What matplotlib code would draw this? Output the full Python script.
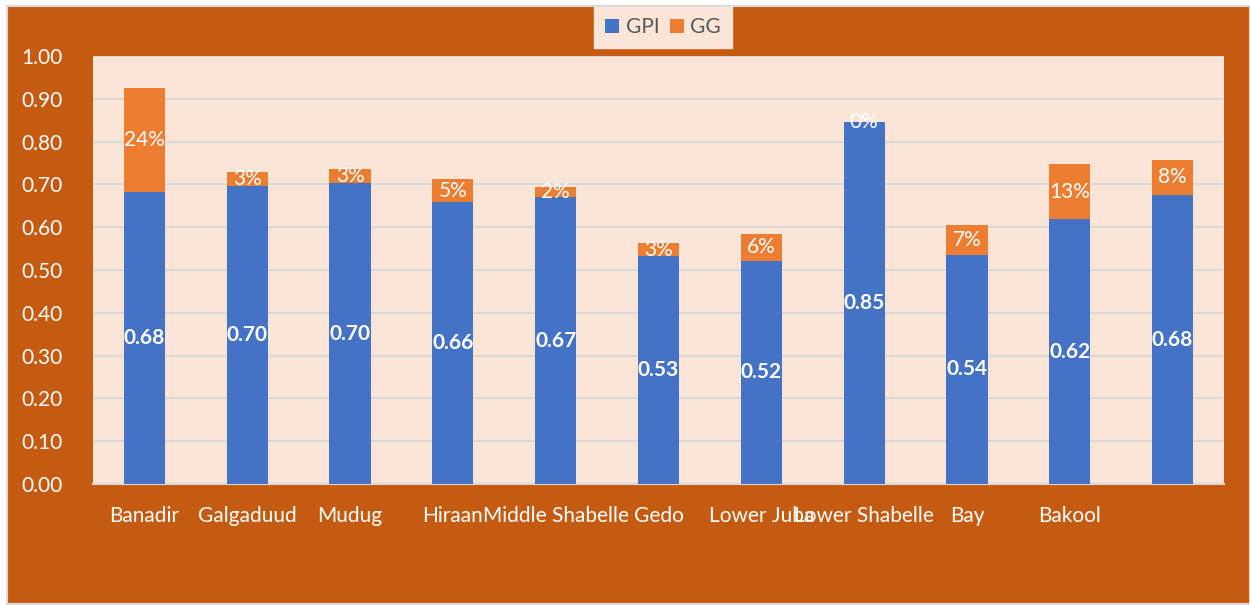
import matplotlib.pyplot as plt
from matplotlib.patches import Rectangle

# data
regions = ['Banadir', 'Galgaduud', 'Mudug', 'Hiraan', 'Middle Shabelle', 'Gedo',
           'Lower Juba', 'Lower Shabelle', 'Bay', 'Bakool', '']
gpi = [0.682, 0.696, 0.703, 0.658, 0.670, 0.532, 0.522, 0.846, 0.536, 0.619, 0.675]
gg = [0.244, 0.034, 0.032, 0.054, 0.023, 0.030, 0.063, 0.0, 0.070, 0.128, 0.083]
yticks = [i / 10 for i in range(11)]

BG = '#C55A11'
PLOT_BG = '#FBE5D6'
BLUE = '#4472C4'
ORANGE = '#ED7D31'

plt.rcParams['font.family'] = ['Lato', 'DejaVu Sans']

fig = plt.figure(figsize=(12.5, 6.05), dpi=100)
fig.patch.set_facecolor('white')
fig.patches.append(Rectangle((7 / 1250, 1 - 604 / 605), 1243 / 1250, 598 / 605,
                             transform=fig.transFigure, facecolor=BG,
                             edgecolor='#D9D9D9', lw=1.5, zorder=-10))

ax = fig.add_axes([93 / 1250, 121 / 605, 1131 / 1250, 428 / 605])
ax.set_facecolor(PLOT_BG)

x = list(range(len(regions)))
b1 = ax.bar(x, gpi, width=0.4, color=BLUE, label='GPI', zorder=3)
b2 = ax.bar(x, gg, width=0.4, bottom=gpi, color=ORANGE, label='GG', zorder=3)

ax.bar_label(b1, labels=['%.2f' % v for v in gpi], label_type='center',
             color='white', fontsize=15, fontweight='bold', zorder=4)
ax.bar_label(b2, labels=['%d%%' % round(v * 100) for v in gg], label_type='center',
             color='white', fontsize=15, zorder=4)

ax.set_xlim(-0.5, len(regions) - 0.5)
ax.set_ylim(0, 1.0)
ax.set_yticks(yticks)
ax.set_yticklabels(['%.2f' % t for t in yticks])
ax.set_xticks(x)
ax.set_xticklabels(regions)
ax.tick_params(axis='both', length=0, labelcolor='white', labelsize=15)
ax.tick_params(axis='y', pad=22)
ax.tick_params(axis='x', pad=16)
ax.grid(axis='y', color='#D9D9D9', lw=1.5, zorder=0)
for s in ['top', 'right', 'left']:
    ax.spines[s].set_visible(False)
ax.spines['bottom'].set_color('#D9D9D9')
ax.spines['bottom'].set_linewidth(1.5)

leg = fig.legend(handles=[b1, b2], loc='upper center', ncol=2,
                 bbox_to_anchor=(663 / 1250, 1 - 7 / 605), borderaxespad=0,
                 frameon=True, facecolor=PLOT_BG, edgecolor=PLOT_BG, fancybox=False,
                 framealpha=1, handlelength=0.7, handleheight=0.7, handletextpad=0.3,
                 columnspacing=0.5, fontsize=15, borderpad=0.5)
for t in leg.get_texts():
    t.set_color('#595959')

fig.savefig('out.png', dpi=100, facecolor=fig.get_facecolor())
